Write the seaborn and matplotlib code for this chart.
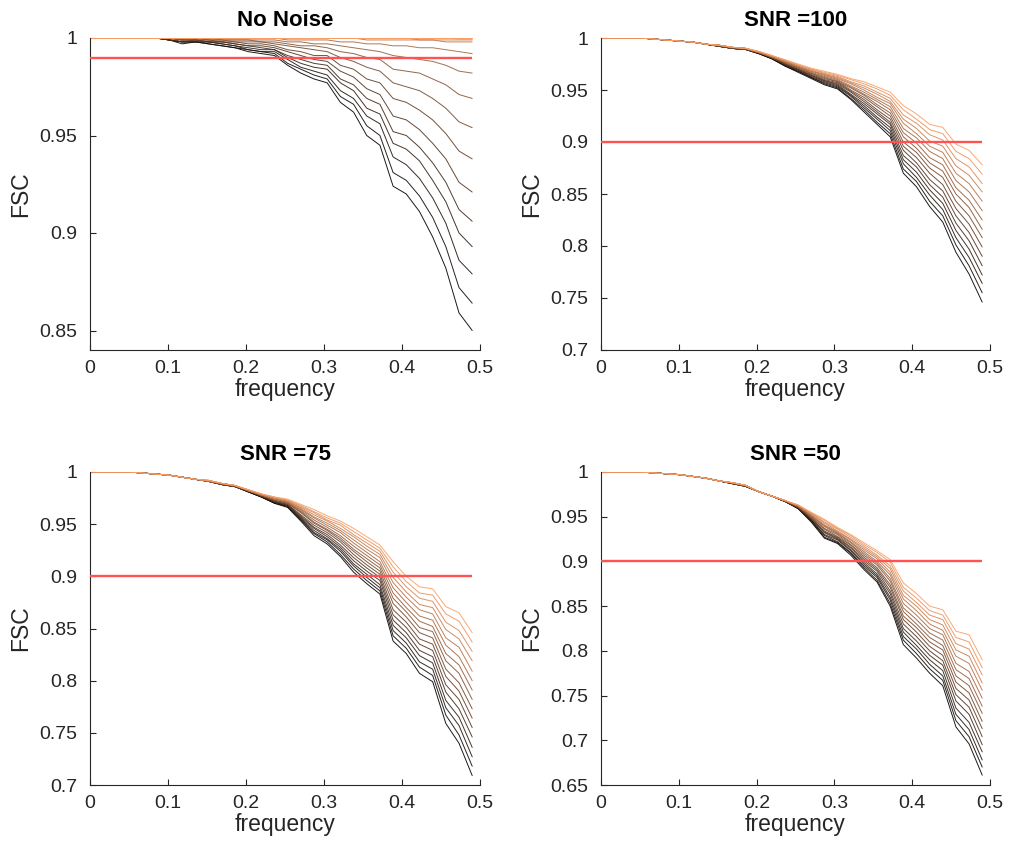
import numpy as np
import pandas as pd
import matplotlib
matplotlib.use("Agg")
import matplotlib.pyplot as plt
from matplotlib.ticker import FuncFormatter
import seaborn as sns

# ---------------- data ----------------
freq = [0.0000, 0.0169, 0.0338, 0.0507, 0.0676, 0.0845, 0.1014, 0.1183, 0.1352, 0.1521,
        0.1690, 0.1859, 0.2028, 0.2197, 0.2366, 0.2534, 0.2703, 0.2872, 0.3041, 0.3210,
        0.3379, 0.3548, 0.3717, 0.3886, 0.4055, 0.4224, 0.4393, 0.4562, 0.4731, 0.4900]

titles = ["No Noise", "SNR =100", "SNR =75", "SNR =50"]
thresholds = [0.99, 0.9, 0.9, 0.9]

fsc_no_noise = [
    [1.000,1.000,1.000,1.000,1.000,1.000,0.999,0.997,0.998,0.997,0.996,0.995,0.993,0.992,0.991,0.986,0.982,0.979,0.977,0.967,0.962,0.950,0.945,0.924,0.920,0.911,0.898,0.882,0.859,0.850],
    [1.000,1.000,1.000,1.000,1.000,1.000,0.999,0.998,0.998,0.997,0.996,0.995,0.994,0.993,0.992,0.987,0.984,0.981,0.979,0.970,0.966,0.955,0.950,0.931,0.927,0.919,0.908,0.893,0.872,0.864],
    [1.000,1.000,1.000,1.000,1.000,1.000,0.999,0.998,0.998,0.998,0.997,0.996,0.994,0.993,0.993,0.989,0.985,0.983,0.981,0.973,0.969,0.960,0.956,0.939,0.935,0.928,0.918,0.905,0.886,0.879],
    [1.000,1.000,1.000,1.000,1.000,1.000,0.999,0.998,0.998,0.998,0.997,0.996,0.995,0.994,0.994,0.990,0.987,0.985,0.984,0.977,0.973,0.964,0.961,0.946,0.943,0.937,0.927,0.916,0.900,0.893],
    [1.000,1.000,1.000,1.000,1.000,1.000,0.999,0.998,0.999,0.998,0.998,0.997,0.996,0.995,0.994,0.991,0.989,0.987,0.986,0.979,0.976,0.969,0.966,0.952,0.950,0.944,0.936,0.926,0.912,0.906],
    [1.000,1.000,1.000,1.000,1.000,1.000,0.999,0.999,0.999,0.998,0.998,0.997,0.996,0.996,0.995,0.993,0.991,0.989,0.988,0.983,0.980,0.974,0.971,0.960,0.958,0.953,0.946,0.938,0.926,0.921],
    [1.000,1.000,1.000,1.000,1.000,1.000,1.000,0.999,0.999,0.999,0.998,0.998,0.997,0.997,0.996,0.994,0.993,0.991,0.991,0.986,0.984,0.979,0.977,0.969,0.967,0.963,0.958,0.951,0.942,0.938],
    [1.000,1.000,1.000,1.000,1.000,1.000,1.000,0.999,0.999,0.999,0.999,0.998,0.998,0.998,0.997,0.996,0.995,0.994,0.993,0.990,0.988,0.985,0.983,0.977,0.975,0.973,0.969,0.964,0.957,0.954],
    [1.000,1.000,1.000,1.000,1.000,1.000,1.000,0.999,1.000,0.999,0.999,0.999,0.999,0.998,0.998,0.997,0.996,0.996,0.995,0.993,0.992,0.990,0.989,0.984,0.983,0.982,0.979,0.976,0.971,0.969],
    [1.000,1.000,1.000,1.000,1.000,1.000,1.000,1.000,1.000,1.000,0.999,0.999,0.999,0.999,0.999,0.998,0.998,0.997,0.997,0.996,0.995,0.994,0.993,0.991,0.990,0.989,0.988,0.986,0.983,0.982],
    [1.000,1.000,1.000,1.000,1.000,1.000,1.000,1.000,1.000,1.000,1.000,1.000,1.000,1.000,1.000,0.999,0.999,0.999,0.999,0.998,0.998,0.997,0.997,0.996,0.996,0.995,0.995,0.994,0.993,0.992],
    [1.000,1.000,1.000,1.000,1.000,1.000,1.000,1.000,1.000,1.000,1.000,1.000,1.000,1.000,1.000,1.000,1.000,1.000,1.000,1.000,1.000,0.999,0.999,0.999,0.999,0.999,0.999,0.998,0.998,0.998],
    [1.000,1.000,1.000,1.000,1.000,1.000,1.000,1.000,1.000,1.000,1.000,1.000,1.000,1.000,1.000,1.000,1.000,1.000,1.000,1.000,1.000,1.000,1.000,1.000,1.000,0.999,0.999,0.999,0.999,0.999],
    [1.000,1.000,1.000,1.000,1.000,1.000,1.000,1.000,1.000,1.000,1.000,1.000,1.000,1.000,1.000,1.000,1.000,1.000,1.000,1.000,1.000,1.000,1.000,1.000,1.000,1.000,1.000,1.000,0.9995,0.9995],
    [1.000,1.000,1.000,1.000,1.000,1.000,1.000,1.000,1.000,1.000,1.000,1.000,1.000,1.000,1.000,1.000,1.000,1.000,1.000,1.000,1.000,1.000,1.000,1.000,1.000,1.000,1.000,1.000,1.000,1.000],
    [1.000,1.000,1.000,1.000,1.000,1.000,1.000,1.000,1.000,1.000,1.000,1.000,1.000,1.000,1.000,1.000,1.000,1.000,1.000,1.000,1.000,1.000,1.000,1.000,1.000,1.000,1.000,1.000,1.000,1.000],
]

fsc_snr100 = [
    [1.000,1.000,1.000,1.000,0.999,0.998,0.997,0.996,0.994,0.992,0.990,0.989,0.985, 0.980,0.973,0.967,0.961,0.955,0.951,0.941,0.929,0.917,0.905,0.870,0.857,0.838,0.823,0.794,0.773,0.746],
    [1.000,1.000,1.000,1.000,0.999,0.998,0.997,0.996,0.994,0.992,0.990,0.989,0.985, 0.980,0.973,0.968,0.962,0.956,0.952,0.942,0.931,0.919,0.908,0.874,0.862,0.843,0.829,0.801,0.781,0.755],
    [1.000,1.000,1.000,1.000,0.999,0.998,0.997,0.996,0.994,0.992,0.990,0.989,0.985, 0.980,0.974,0.968,0.962,0.957,0.953,0.944,0.933,0.922,0.911,0.879,0.866,0.849,0.835,0.808,0.789,0.764],
    [1.000,1.000,1.000,1.000,0.999,0.998,0.997,0.996,0.994,0.992,0.990,0.989,0.985, 0.981,0.974,0.969,0.963,0.958,0.954,0.945,0.935,0.924,0.914,0.883,0.871,0.854,0.841,0.815,0.797,0.772],
    [1.000,1.000,1.000,1.000,0.999,0.998,0.997,0.996,0.994,0.992,0.990,0.989,0.986, 0.981,0.975,0.969,0.964,0.959,0.955,0.946,0.937,0.927,0.917,0.887,0.876,0.859,0.847,0.822,0.805,0.781],
    [1.000,1.000,1.000,1.000,0.999,0.998,0.997,0.996,0.994,0.992,0.990,0.989,0.986, 0.981,0.975,0.970,0.964,0.959,0.956,0.948,0.939,0.929,0.919,0.892,0.880,0.864,0.853,0.829,0.813,0.790],
    [1.000,1.000,1.000,1.000,0.999,0.998,0.997,0.996,0.994,0.992,0.990,0.989,0.986, 0.981,0.975,0.970,0.965,0.960,0.957,0.949,0.941,0.931,0.922,0.896,0.885,0.870,0.859,0.836,0.821,0.799],
    [1.000,1.000,1.000,1.000,0.999,0.998,0.997,0.996,0.994,0.992,0.990,0.989,0.986, 0.981,0.976,0.971,0.966,0.961,0.958,0.950,0.943,0.934,0.925,0.900,0.890,0.875,0.866,0.843,0.829,0.808],
    [1.000,1.000,1.000,1.000,0.999,0.998,0.997,0.996,0.994,0.993,0.991,0.990,0.986, 0.982,0.976,0.971,0.966,0.962,0.958,0.952,0.945,0.936,0.928,0.905,0.894,0.880,0.872,0.850,0.837,0.816],
    [1.000,1.000,1.000,1.000,0.999,0.998,0.997,0.996,0.994,0.993,0.991,0.990,0.986, 0.982,0.977,0.972,0.967,0.963,0.959,0.953,0.946,0.939,0.931,0.909,0.899,0.885,0.878,0.856,0.844,0.825],
    [1.000,1.000,1.000,1.000,0.999,0.998,0.997,0.996,0.994,0.993,0.991,0.990,0.986, 0.982,0.977,0.972,0.968,0.964,0.960,0.954,0.948,0.941,0.934,0.913,0.904,0.891,0.884,0.863,0.852,0.834],
    [1.000,1.000,1.000,1.000,0.999,0.998,0.997,0.996,0.994,0.993,0.991,0.990,0.986, 0.982,0.977,0.973,0.968,0.965,0.961,0.956,0.950,0.943,0.937,0.918,0.908,0.896,0.890,0.870,0.860,0.843],
    [1.000,1.000,1.000,1.000,0.999,0.998,0.997,0.996,0.994,0.993,0.991,0.990,0.987, 0.982,0.978,0.973,0.969,0.965,0.962,0.957,0.952,0.946,0.939,0.922,0.913,0.901,0.896,0.877,0.868,0.852],
    [1.000,1.000,1.000,1.000,0.999,0.998,0.997,0.996,0.994,0.993,0.991,0.990,0.987, 0.983,0.978,0.974,0.970,0.966,0.963,0.958,0.954,0.948,0.942,0.926,0.918,0.907,0.902,0.884,0.876,0.860],
    [1.000,1.000,1.000,1.000,0.999,0.998,0.997,0.996,0.994,0.993,0.991,0.990,0.987, 0.983,0.979,0.974,0.970,0.967,0.964,0.960,0.956,0.951,0.945,0.931,0.922,0.912,0.908,0.891,0.884,0.869],
    [1.000,1.000,1.000,1.000,0.999,0.998,0.997,0.996,0.994,0.993,0.991,0.990,0.987, 0.983,0.979,0.975,0.971,0.968,0.965,0.961,0.958,0.953,0.948,0.935,0.927,0.917,0.914,0.898,0.892,0.878],
]

fsc_snr75 = [
    [1.000,1.000,1.000,1.000,0.999,0.998,0.997,0.995,0.993,0.991,0.988,0.986,0.981, 0.976,0.970,0.966,0.953,0.939,0.931,0.919,0.904,0.893,0.883,0.838,0.826,0.807,0.799,0.759,0.740,0.709],
    [1.000,1.000,1.000,1.000,0.999,0.998,0.997,0.995,0.993,0.991,0.988,0.986,0.981, 0.976,0.970,0.967,0.954,0.941,0.933,0.921,0.907,0.896,0.886,0.843,0.831,0.813,0.805,0.767,0.748,0.718],
    [1.000,1.000,1.000,1.000,0.999,0.998,0.997,0.995,0.993,0.991,0.988,0.986,0.981, 0.976,0.971,0.967,0.955,0.942,0.935,0.924,0.910,0.899,0.889,0.848,0.836,0.818,0.811,0.774,0.757,0.727],
    [1.000,1.000,1.000,1.000,0.999,0.998,0.997,0.995,0.993,0.991,0.988,0.986,0.981, 0.977,0.971,0.968,0.956,0.944,0.936,0.926,0.912,0.902,0.892,0.853,0.841,0.824,0.817,0.781,0.765,0.736],
    [1.000,1.000,1.000,1.000,0.999,0.998,0.997,0.995,0.993,0.991,0.988,0.986,0.982, 0.977,0.972,0.968,0.957,0.946,0.938,0.928,0.915,0.905,0.896,0.858,0.846,0.829,0.823,0.789,0.773,0.746],
    [1.000,1.000,1.000,1.000,0.999,0.998,0.997,0.995,0.993,0.991,0.988,0.986,0.982, 0.977,0.972,0.969,0.958,0.947,0.940,0.930,0.918,0.908,0.899,0.863,0.851,0.835,0.829,0.796,0.782,0.755],
    [1.000,1.000,1.000,1.000,0.999,0.998,0.997,0.995,0.993,0.991,0.988,0.986,0.982, 0.977,0.972,0.969,0.959,0.949,0.942,0.933,0.921,0.911,0.902,0.868,0.856,0.840,0.835,0.804,0.790,0.764],
    [1.000,1.000,1.000,1.000,0.999,0.998,0.997,0.995,0.993,0.991,0.988,0.986,0.982, 0.977,0.973,0.970,0.961,0.951,0.944,0.935,0.924,0.914,0.905,0.874,0.861,0.846,0.841,0.811,0.798,0.773],
    [1.000,1.000,1.000,1.000,0.999,0.998,0.997,0.995,0.993,0.991,0.989,0.987,0.982, 0.978,0.973,0.970,0.962,0.952,0.945,0.937,0.926,0.917,0.908,0.879,0.866,0.851,0.847,0.819,0.807,0.782],
    [1.000,1.000,1.000,1.000,0.999,0.998,0.997,0.995,0.993,0.991,0.989,0.987,0.982, 0.978,0.974,0.971,0.963,0.954,0.947,0.939,0.929,0.920,0.911,0.884,0.870,0.857,0.852,0.826,0.815,0.791],
    [1.000,1.000,1.000,1.000,0.999,0.998,0.997,0.995,0.993,0.991,0.989,0.987,0.982, 0.978,0.974,0.971,0.964,0.956,0.949,0.942,0.932,0.923,0.914,0.889,0.875,0.862,0.858,0.834,0.823,0.800],
    [1.000,1.000,1.000,1.000,0.999,0.998,0.997,0.995,0.993,0.991,0.989,0.987,0.982, 0.978,0.974,0.972,0.965,0.957,0.951,0.944,0.935,0.926,0.918,0.894,0.880,0.868,0.864,0.841,0.832,0.809],
    [1.000,1.000,1.000,1.000,0.999,0.998,0.997,0.995,0.993,0.992,0.989,0.987,0.983, 0.978,0.975,0.972,0.966,0.959,0.953,0.946,0.938,0.929,0.921,0.899,0.885,0.873,0.870,0.849,0.840,0.819],
    [1.000,1.000,1.000,1.000,0.999,0.998,0.997,0.995,0.993,0.992,0.989,0.987,0.983, 0.979,0.975,0.973,0.967,0.961,0.954,0.949,0.940,0.932,0.924,0.904,0.890,0.879,0.876,0.856,0.848,0.828],
    [1.000,1.000,1.000,1.000,0.999,0.998,0.997,0.995,0.993,0.992,0.989,0.987,0.983, 0.979,0.976,0.973,0.968,0.962,0.956,0.951,0.943,0.935,0.927,0.909,0.895,0.884,0.882,0.864,0.857,0.837],
    [1.000,1.000,1.000,1.000,0.999,0.998,0.997,0.995,0.993,0.992,0.989,0.987,0.983, 0.979,0.976,0.974,0.969,0.964,0.958,0.953,0.946,0.938,0.930,0.914,0.900,0.890,0.888,0.871,0.865,0.846],
]

fsc_snr50 = [
    [1.000,1.000,1.000,1.000,0.999,0.998,0.997,0.995,0.993,0.990,0.987,0.984,0.978, 0.973,0.967,0.959,0.944,0.926,0.920,0.907,0.891,0.877,0.850,0.807,0.792,0.775,0.761,0.715,0.696,0.661],
    [1.000,1.000,1.000,1.000,0.999,0.998,0.997,0.995,0.993,0.990,0.987,0.984,0.978, 0.973,0.967,0.959,0.945,0.927,0.921,0.909,0.893,0.879,0.853,0.812,0.797,0.780,0.767,0.722,0.704,0.670],
    [1.000,1.000,1.000,1.000,0.999,0.998,0.997,0.995,0.993,0.990,0.987,0.984,0.978, 0.973,0.967,0.960,0.946,0.929,0.922,0.910,0.895,0.882,0.857,0.816,0.802,0.785,0.772,0.729,0.712,0.678],
    [1.000,1.000,1.000,1.000,0.999,0.998,0.997,0.995,0.993,0.990,0.987,0.984,0.978, 0.973,0.967,0.960,0.946,0.930,0.924,0.912,0.897,0.884,0.860,0.821,0.806,0.790,0.778,0.736,0.720,0.687],
    [1.000,1.000,1.000,1.000,0.999,0.998,0.997,0.995,0.993,0.990,0.987,0.984,0.978, 0.973,0.967,0.960,0.947,0.932,0.925,0.913,0.899,0.886,0.864,0.825,0.811,0.795,0.784,0.744,0.729,0.695],
    [1.000,1.000,1.000,1.000,0.999,0.998,0.997,0.995,0.993,0.990,0.987,0.984,0.978, 0.973,0.967,0.960,0.948,0.933,0.926,0.915,0.901,0.889,0.867,0.830,0.816,0.800,0.789,0.751,0.737,0.704],
    [1.000,1.000,1.000,1.000,0.999,0.998,0.997,0.995,0.993,0.990,0.987,0.984,0.978, 0.973,0.967,0.961,0.948,0.934,0.927,0.916,0.903,0.891,0.871,0.835,0.821,0.805,0.795,0.758,0.745,0.713],
    [1.000,1.000,1.000,1.000,0.999,0.998,0.997,0.995,0.993,0.990,0.987,0.984,0.978, 0.973,0.968,0.961,0.949,0.936,0.928,0.918,0.905,0.893,0.874,0.839,0.826,0.810,0.801,0.765,0.753,0.721],
    [1.000,1.000,1.000,1.000,0.999,0.998,0.997,0.995,0.993,0.990,0.988,0.985,0.978, 0.973,0.968,0.961,0.950,0.937,0.930,0.919,0.907,0.896,0.878,0.844,0.830,0.815,0.806,0.772,0.761,0.730],
    [1.000,1.000,1.000,1.000,0.999,0.998,0.997,0.995,0.993,0.990,0.988,0.985,0.978, 0.973,0.968,0.961,0.951,0.939,0.931,0.921,0.909,0.898,0.881,0.848,0.835,0.820,0.812,0.779,0.769,0.738],
    [1.000,1.000,1.000,1.000,0.999,0.998,0.997,0.995,0.993,0.990,0.988,0.985,0.978, 0.973,0.968,0.962,0.951,0.940,0.932,0.922,0.911,0.900,0.885,0.853,0.840,0.825,0.818,0.786,0.777,0.747],
    [1.000,1.000,1.000,1.000,0.999,0.998,0.997,0.995,0.993,0.990,0.988,0.985,0.978, 0.973,0.968,0.962,0.952,0.941,0.933,0.924,0.913,0.903,0.888,0.858,0.845,0.830,0.823,0.794,0.786,0.756],
    [1.000,1.000,1.000,1.000,0.999,0.998,0.997,0.995,0.993,0.990,0.988,0.985,0.978, 0.973,0.968,0.962,0.953,0.943,0.934,0.925,0.915,0.905,0.892,0.862,0.850,0.835,0.829,0.801,0.794,0.764],
    [1.000,1.000,1.000,1.000,0.999,0.998,0.997,0.995,0.993,0.990,0.988,0.985,0.978, 0.973,0.968,0.963,0.954,0.944,0.936,0.927,0.917,0.907,0.895,0.867,0.854,0.840,0.835,0.808,0.802,0.773],
    [1.000,1.000,1.000,1.000,0.999,0.998,0.997,0.995,0.993,0.990,0.988,0.985,0.978, 0.973,0.968,0.963,0.954,0.946,0.937,0.929,0.919,0.910,0.899,0.871,0.859,0.845,0.840,0.815,0.810,0.781],
    [1.000,1.000,1.000,1.000,0.999,0.998,0.997,0.995,0.993,0.990,0.988,0.985,0.978, 0.973,0.968,0.963,0.955,0.947,0.938,0.930,0.921,0.912,0.902,0.876,0.864,0.850,0.846,0.822,0.818,0.790],
]

panels = [fsc_no_noise, fsc_snr100, fsc_snr75, fsc_snr50]

# ---------------- style ----------------
sns.set_style("white")
plt.rcParams['font.family'] = ['Liberation Sans', 'DejaVu Sans']
plt.rcParams['axes.linewidth'] = 0.8

W, H = 1011, 843
fig = plt.figure(figsize=(W / 100, H / 100), dpi=100)

# axes boxes in pixels: (left, top, right, bottom)
boxes = [(90, 38, 480, 350), (601, 38, 990, 350), (90, 472, 480, 785), (601, 472, 990, 785)]
ylims = [(0.84, 1.0), (0.7, 1.0), (0.7, 1.0), (0.65, 1.0)]
yticks = [[0.85, 0.9, 0.95, 1.0],
          [0.7, 0.75, 0.8, 0.85, 0.9, 0.95, 1.0],
          [0.7, 0.75, 0.8, 0.85, 0.9, 0.95, 1.0],
          [0.65, 0.7, 0.75, 0.8, 0.85, 0.9, 0.95, 1.0]]

cmap = plt.get_cmap("copper")
n_curves = 16
colors = [cmap(v) for v in np.linspace(0.0, 0.8, n_curves)]
fmt = FuncFormatter(lambda v, p: f"{v:g}")
ink = "#262626"

for i, (data, box) in enumerate(zip(panels, boxes)):
    l, t, r, b = box
    ax = fig.add_axes([l / W, 1 - b / H, (r - l) / W, (b - t) / H])
    rows = []
    for k, curve in enumerate(data):
        for f, v in zip(freq, curve):
            rows.append({"frequency": f, "FSC": v, "curve": k})
    df = pd.DataFrame(rows)
    sns.lineplot(data=df, x="frequency", y="FSC", hue="curve",
                 palette=colors[:len(data)], hue_order=list(range(len(data))),
                 estimator=None, sort=False, legend=False, linewidth=0.7, alpha=0.9, ax=ax)
    ax.hlines(thresholds[i], freq[0], freq[-1], color="#ff5252", linewidth=1.7, zorder=5)
    ax.set_xlim(0, 0.5)
    ax.set_ylim(*ylims[i])
    ax.set_xticks([0, 0.1, 0.2, 0.3, 0.4, 0.5])
    ax.set_yticks(yticks[i])
    ax.xaxis.set_major_formatter(fmt)
    ax.yaxis.set_major_formatter(fmt)
    ax.tick_params(direction="in", length=4, width=0.8, labelsize=14, colors=ink,
                   bottom=True, left=True)
    ax.tick_params(axis="y", pad=9)
    ax.tick_params(axis="x", pad=7)
    for s in ["top", "right"]:
        ax.spines[s].set_visible(False)
    for s in ["left", "bottom"]:
        ax.spines[s].set_color(ink)
    ax.set_xlabel("frequency", fontsize=16.5, color=ink, labelpad=1)
    ax.set_ylabel("FSC", fontsize=16.5, color=ink, labelpad=5)
    ax.set_title(titles[i], fontsize=16, fontweight="bold", color="black", pad=9)

fig.savefig("out.png", dpi=100)
